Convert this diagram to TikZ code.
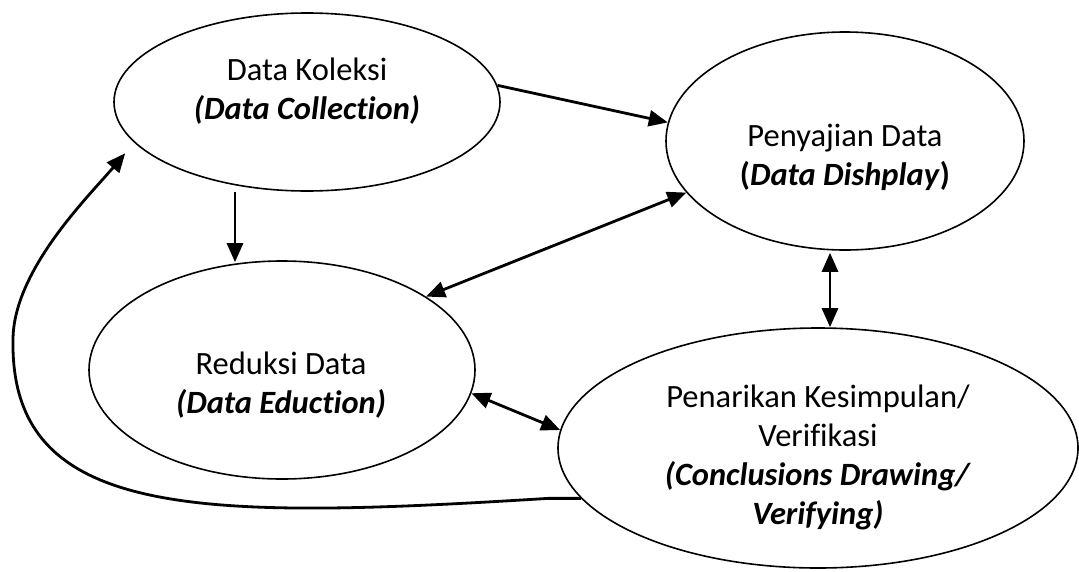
\documentclass[tikz,border=0pt]{standalone}
\usepackage{fontspec}
\setmainfont{Carlito}[Ligatures=NoCommon,RawFeature=-liga]
\usepackage{tikz}
\usetikzlibrary{shapes.geometric,arrows.meta}
\tikzset{
	MyStage/.style={draw=black,line width=1.6pt,ellipse,inner sep=0pt},
	MyText/.style={align=center,font=\fontsize{32.5}{39}\selectfont},
	MyArrow/.style={line width=2.8pt,-{Triangle[length=19pt,width=16pt]}},
	MyBoth/.style={line width=2.8pt,{Triangle[length=19pt,width=16pt]}-{Triangle[length=19pt,width=16pt]}}
		}
\begin{document}
\begin{tikzpicture}[x=1pt,y=-1pt]
	\path[use as bounding box,fill=white] (0,0) rectangle (1079,571);
	% the four stages
	\node[MyStage,minimum width=386,minimum height=178] (koleksi) at (307,102) {};
	\node[MyStage,minimum width=358,minimum height=218] (sajian) at (845,141) {};
	\node[MyStage,minimum width=386,minimum height=218] (reduksi) at (282,370) {};
	\node[MyStage,minimum width=520,minimum height=240] (simpul) at (818,448) {};

	\node[MyText] (tkoleksi) at (307,91) {Data Koleksi\\\textbf{\textit{(Data Collection)}}};
	\node[MyText] (tsajian) at (845,157) {Penyajian Data\\\textbf{(\textit{Data Dishplay})}};
	\node[MyText] (treduksi) at (281,385) {Reduksi Data\\\textbf{\textit{(Data Eduction)}}};
	\node[MyText] (tsimpul) at (818,457) {Penarikan Kesimpulan/\\Verifikasi\\
		\textbf{\textit{(Conclusions Drawing/}}\\\textbf{\textit{Verifying)}}};

	% arrows
	\draw[MyArrow] (koleksi.5) -- (sajian.174);
	\draw[MyArrow] ([xshift=-72pt]koleksi.south) -- ([xshift=-47pt,yshift=-2pt]reduksi.north);
	\draw[MyBoth] (reduksi.27) -- (sajian.198);
	\draw[MyBoth] (reduksi.-7) -- (simpul.176);
	\draw[MyBoth] ([xshift=-15pt,yshift=-2pt]sajian.south) -- ([xshift=12pt]simpul.north);
	% feedback loop
	\draw[MyArrow] (simpul.192) -- ++(-33,0)
		.. controls (200,520) and (10,520) .. (13,340)
		.. controls (13,270) and (90,195) .. ([shift={(-17pt,-4pt)}]koleksi.196);
\end{tikzpicture}
\end{document}
